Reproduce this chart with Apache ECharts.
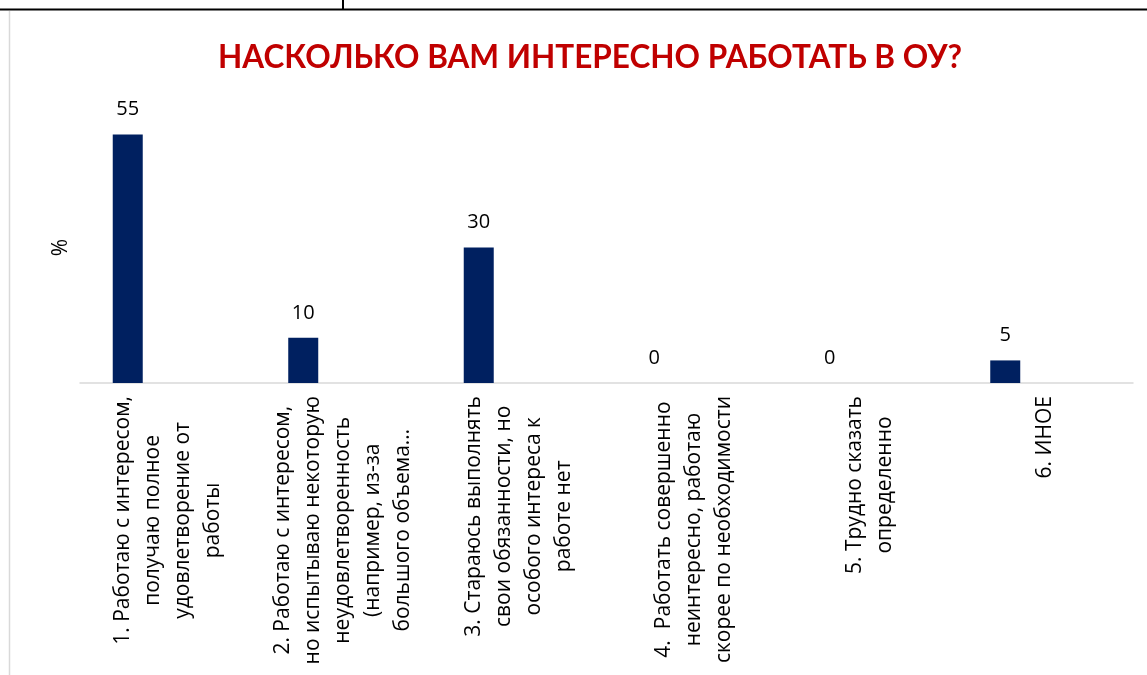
<!DOCTYPE html>
<html>
<head>
<meta charset="utf-8">
<script src="https://cdn.jsdelivr.net/npm/echarts@6/dist/echarts.min.js"></script>
<style>
  html, body { margin: 0; padding: 0; background: #fff; }
  #echarts { width: 1147px; height: 675px; }
</style>
</head>
<body>
<div id="echarts"></div>
<script>
const titleText = 'НАСКОЛЬКО ВАМ ИНТЕРЕСНО РАБОТАТЬ В ОУ?';
// category labels, line breaks as in the picture
const categories = [
  ['1. Работаю с интересом,', 'получаю полное', 'удовлетворение от', 'работы'],
  ['2. Работаю с интересом,', 'но испытываю некоторую', 'неудовлетворенность', '(например, из-за', 'большого объема…'],
  ['3. Стараюсь выполнять', 'свои обязанности, но', 'особого интереса к', 'работе нет'],
  ['4.  Работать совершенно', 'неинтересно, работаю', 'скорее по необходимости'],
  ['5. Трудно сказать', 'определенно'],
  ['6. ИНОЕ']
];
const values = [55, 10, 30, 0, 0, 5];
const yName = '%';

let myChart = echarts.init(document.getElementById('echarts'));
const fontFamily = "'Open Sans', 'Noto Sans', sans-serif";

let option = {
  animation: false,
  backgroundColor: '#fff',
  title: {
    text: titleText,
    left: 213,
    top: 37,
    textStyle: {
      color: '#C00000',
      fontFamily: 'Lato, sans-serif',
      fontWeight: 'bold',
      fontSize: 31.5,
    },
  },
  grid: {
    left: 80,
    right: 14,
    top: 112,
    bottom: 292,
  },
  xAxis: {
    type: 'category',
    data: categories.map(lines => lines.join('\n')),
    axisLine: { lineStyle: { color: '#d9d9d9', width: 1.5 } },
    axisTick: { show: false },
    axisLabel: {
      interval: 0,
      rotate: 90,
      margin: 13,
      color: '#000',
      fontFamily,
      fontSize: 21,
      lineHeight: 30,
      formatter(val) {
        return val.split('\n').map(s => '{c|' + s + '}').join('\n');
      },
      rich: {
        c: {
          align: 'center',
          fontFamily,
          fontSize: 21,
          lineHeight: 30,
          color: '#000',
        },
      },
    },
  },
  yAxis: {
    type: 'value',
    min: 0,
    max: 60,
    name: yName,
    nameLocation: 'middle',
    nameRotate: 90,
    nameGap: 8,
    nameTextStyle: { color: '#000', fontFamily, fontSize: 21 },
    axisLine: { show: false },
    axisTick: { show: false },
    axisLabel: { show: false },
    splitLine: { show: false },
  },
  graphic: [
    // document table borders around the chart
    { type: 'line', shape: { x1: 0, y1: 9.5, x2: 1147, y2: 9.5 }, style: { stroke: '#000', lineWidth: 2 } },
    { type: 'line', shape: { x1: 343, y1: 0, x2: 343, y2: 9 }, style: { stroke: '#000', lineWidth: 2 } },
    { type: 'line', shape: { x1: 9.5, y1: 11, x2: 9.5, y2: 675 }, style: { stroke: '#d9d9d9', lineWidth: 1.5 } },
  ],
  series: [
    {
      name: 'values',
      type: 'bar',
      data: values,
      barWidth: 30,
      barGap: '166.7%',
      itemStyle: { color: '#002060' },
      label: {
        show: true,
        position: 'top',
        distance: 15,
        color: '#000',
        fontFamily,
        fontSize: 20,
      },
    },
    {
      // empty second series, keeps the bar in the left part of its category
      name: 'placeholder',
      type: 'bar',
      silent: true,
      barWidth: 30,
      data: values.map(() => '-'),
    },
  ],
};
myChart.setOption(option);
</script>
</body>
</html>
